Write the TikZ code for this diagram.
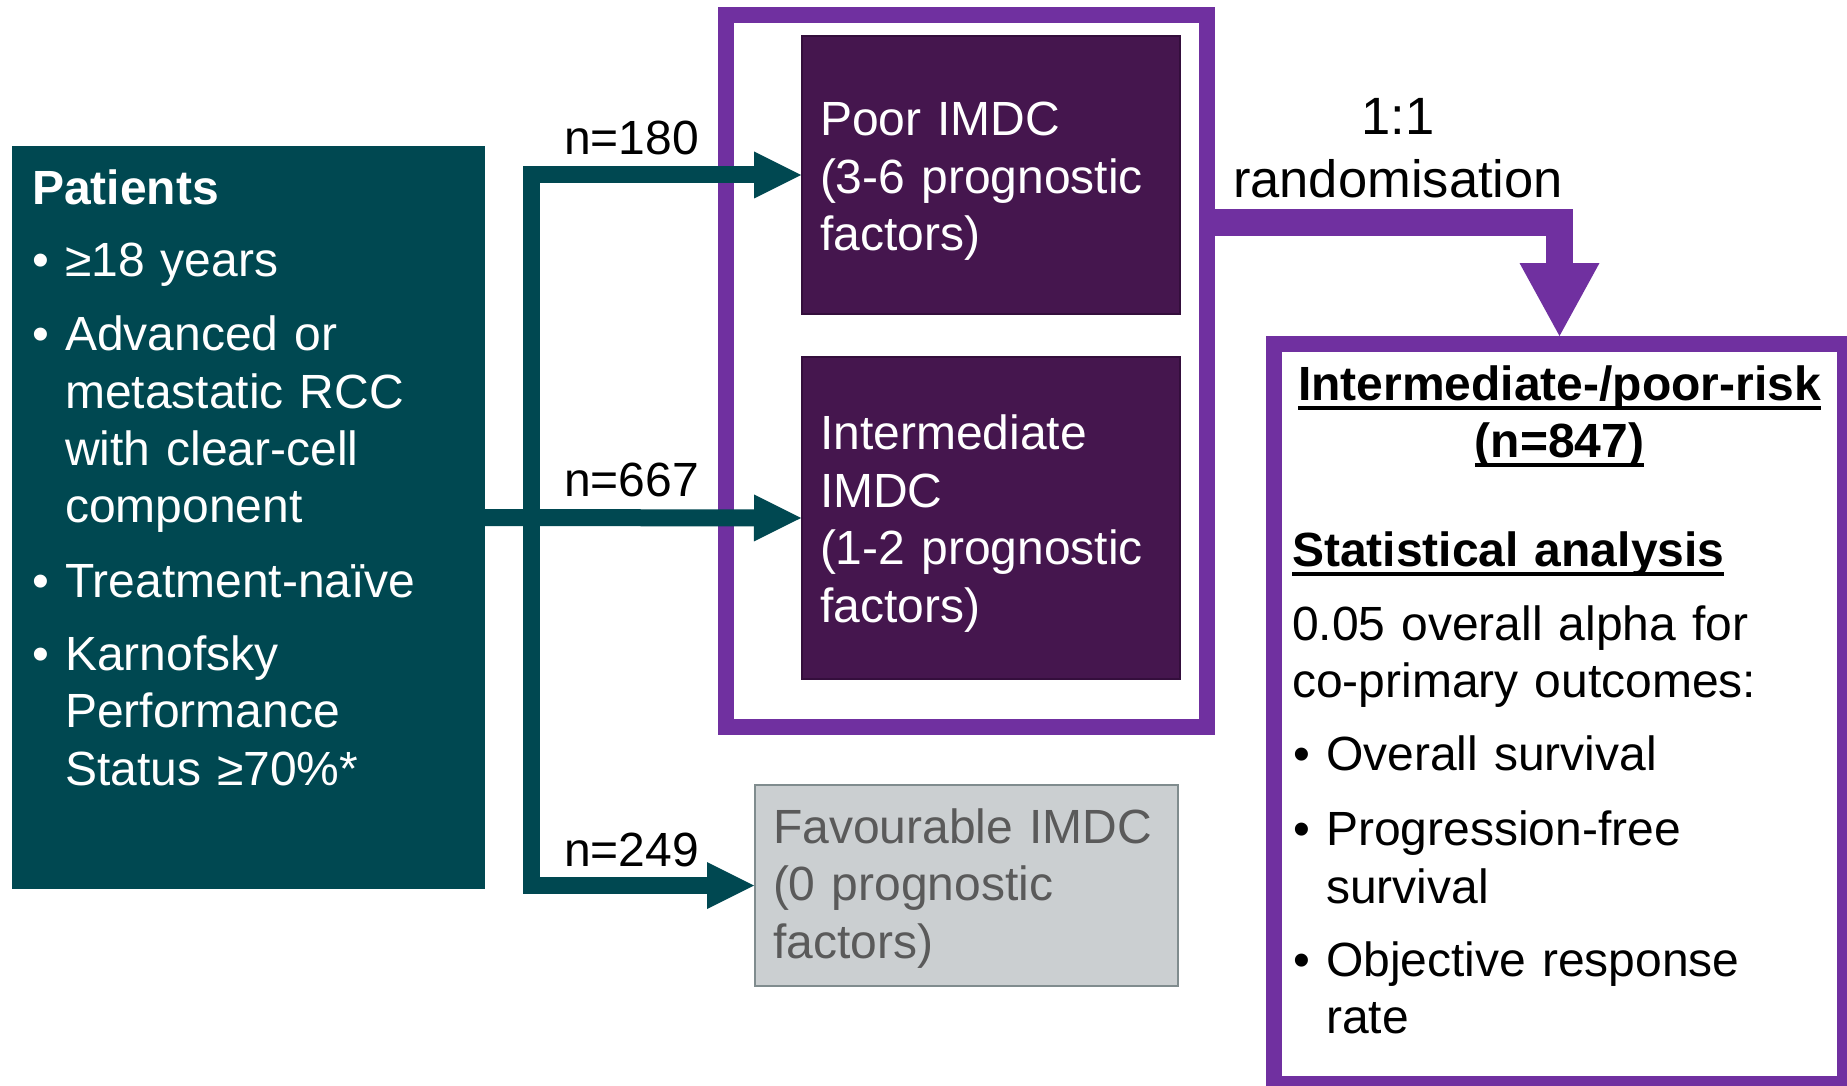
\documentclass[tikz,border=0pt]{standalone}
\usepackage{fontspec}
\setmainfont{Liberation Sans}
\usetikzlibrary{arrows.meta}
\definecolor{tealc}{RGB}{0,72,81}
\definecolor{purpc}{RGB}{112,48,160}
\definecolor{dpurp}{RGB}{69,22,78}
\definecolor{dpurpline}{RGB}{52,14,60}
\definecolor{favfill}{RGB}{203,207,209}
\definecolor{favline}{RGB}{128,140,142}
\definecolor{favtext}{RGB}{90,90,90}
\newsavebox\ulbox
\newcommand\myul[1]{\leavevmode\sbox\ulbox{#1}\rlap{\rule[-10pt]{\wd\ulbox}{4pt}}\usebox\ulbox}
\newcommand\bulP{\hspace*{3pt}\makebox[33pt][l]{•}}
\newcommand\indP{\hspace*{36pt}}
\newcommand\bulR{\hspace*{1pt}\makebox[33pt][l]{•}}
\newcommand\indR{\hspace*{34pt}}
\begin{document}
\begin{tikzpicture}[x=1pt,y=-1pt,
  bigfont/.style={font=\fontsize{48pt}{57.5pt}\selectfont},
  pbox/.style={draw=tealc,fill=tealc,line width=1pt,inner sep=0pt},
  dbox/.style={draw=dpurpline,fill=dpurp,line width=2pt,bigfont,text=white,
    align=left,inner xsep=18pt,inner ysep=0pt},
  fbox/.style={draw=favline,fill=favfill,line width=2pt,bigfont,text=favtext,
    align=left,inner xsep=18pt,inner ysep=0pt},
  pframe/.style={draw=purpc,line width=16pt,inner sep=0pt},
  txt/.style={bigfont,inner sep=0pt},
  tarrow/.style={draw=tealc,line width=17pt,line join=miter,
    -{Triangle[length=47pt,width=47pt,line width=0pt]}},
  parrow/.style={draw=purpc,line width=27pt,line join=miter,
    -{Triangle[length=73pt,width=80pt,line width=0pt]}}
]
\useasboundingbox[fill=white] (0,0) rectangle (1847,1086);

% Patients box
\node[pbox,minimum width=472pt,minimum height=741pt] (patients) at (248,517.5) {};
\node[txt,text=white,text width=440pt,align=left,anchor=base west] (ptext) at (29,204.5)
  {\hspace*{3pt}\textbf{Patients}\\[14pt]
   \bulP ≥18 years\\[17pt]
   \bulP Advanced or\\
   \indP metastatic RCC\\
   \indP with clear-cell\\
   \indP component\\[17pt]
   \bulP Treatment-naïve\\[15.5pt]
   \bulP Karnofsky\\
   \indP Performance\\
   \indP Status ≥70\%*};

% grouping frame
\node[pframe,minimum width=481pt,minimum height=712pt] (frame) at (966.5,371) {};

% risk boxes
\node[dbox,minimum width=378pt,minimum height=278pt,text width=342pt] (poor) at (991,175)
  {\rule{0pt}{46pt}Poor IMDC\\(3-6 prognostic\\factors)};
\node[dbox,minimum width=378pt,minimum height=322pt,text width=342pt] (inter) at (991,518)
  {\rule{0pt}{46pt}Intermediate\\IMDC\\(1-2 prognostic\\factors)};
\node[fbox,minimum width=423pt,minimum height=201pt,text width=387pt] (fav) at (966.5,885.5)
  {\rule{0pt}{40pt}Favourable IMDC\\(0 prognostic\\factors)};

% teal connectors
\coordinate (j) at (531.5,518);
\draw[tarrow] (patients.east) -- (inter.west);
\draw[tarrow] (j) |- (poor.west);
\draw[tarrow] (j) |- (fav.west);

\node[txt,anchor=base west] (n180) at (564,155) {n=180};
\node[txt,anchor=base west] (n667) at (564,496) {n=667};
\node[txt,anchor=base west] (n249) at (564,866) {n=249};

% right box
\node[pframe,minimum width=571pt,minimum height=740pt] (rbox) at (1559.5,714) {};

% randomisation connector
\coordinate (rs) at (frame.east |- 0,222.5);
\draw[parrow] (rs) -| (rbox.north);
\node[inner sep=0pt,font=\fontsize{52.5pt}{63pt}\selectfont,text width=400pt,align=center,anchor=base]
  (rand) at (1398,135) {1:1\\randomisation};

% right box texts
\node[txt,text width=560pt,align=center,anchor=base,font=\fontsize{48pt}{57pt}\selectfont\bfseries]
  (rhead) at (1559.5,400) {\myul{Intermediate-/poor-risk}\\\myul{(n=847)}};
\node[txt,text width=540pt,align=left,anchor=base west] (rbody) at (1292,566)
  {\textbf{\myul{Statistical analysis}}\\[16.5pt]
   0.05 overall alpha for\\
   co-primary outcomes:\\[15.5pt]
   \bulR Overall survival\\[17.5pt]
   \bulR Progression-free\\
   \indR survival\\[15.5pt]
   \bulR Objective response\\
   \indR rate};
\end{tikzpicture}
\end{document}
